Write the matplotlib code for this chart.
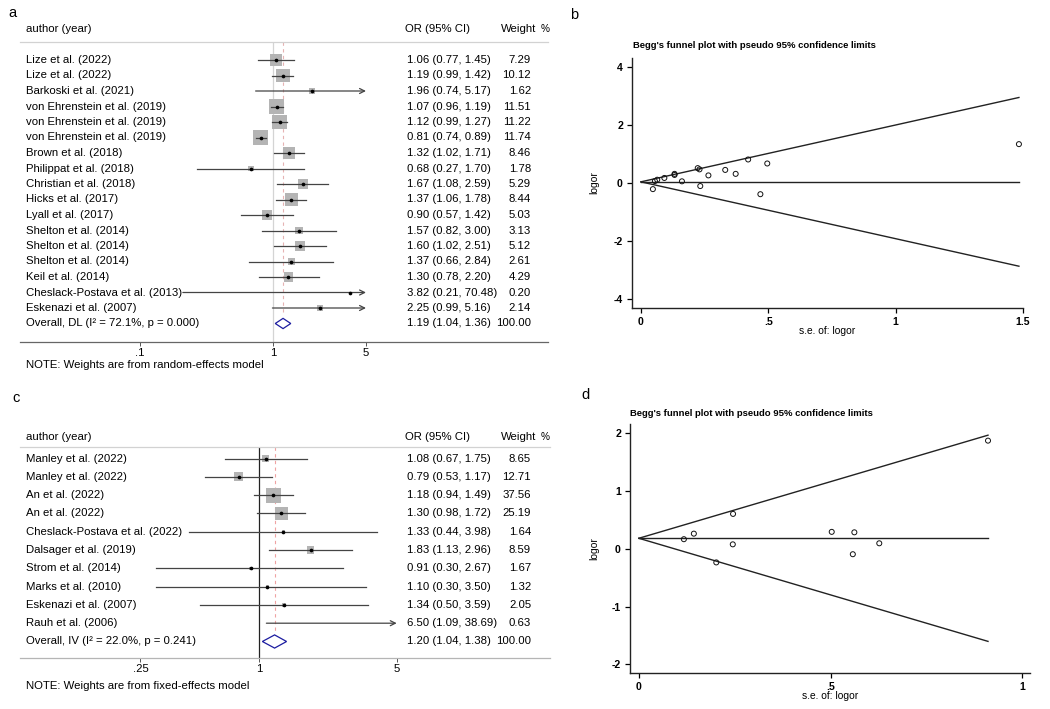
import numpy as np
import matplotlib
matplotlib.use("Agg")
import matplotlib.pyplot as plt
from matplotlib.transforms import blended_transform_factory
from matplotlib.ticker import NullLocator

plt.rcParams['font.family'] = ['Liberation Sans', 'DejaVu Sans']

# ---- panel a: forest plot (random effects)
a_names = ["Lize et al. (2022)", "Lize et al. (2022)", "Barkoski et al. (2021)",
           "von Ehrenstein et al. (2019)", "von Ehrenstein et al. (2019)",
           "von Ehrenstein et al. (2019)", "Brown et al. (2018)", "Philippat et al. (2018)",
           "Christian et al. (2018)", "Hicks et al. (2017)", "Lyall et al. (2017)",
           "Shelton et al. (2014)", "Shelton et al. (2014)", "Shelton et al. (2014)",
           "Keil et al. (2014)", "Cheslack-Postava et al. (2013)", "Eskenazi et al. (2007)"]
a_or = [1.06, 1.19, 1.96, 1.07, 1.12, 0.81, 1.32, 0.68, 1.67, 1.37, 0.90, 1.57, 1.60, 1.37, 1.30, 3.82, 2.25]
a_lo = [0.77, 0.99, 0.74, 0.96, 0.99, 0.74, 1.02, 0.27, 1.08, 1.06, 0.57, 0.82, 1.02, 0.66, 0.78, 0.21, 0.99]
a_hi = [1.45, 1.42, 5.17, 1.19, 1.27, 0.89, 1.71, 1.70, 2.59, 1.78, 1.42, 3.00, 2.51, 2.84, 2.20, 70.48, 5.16]
a_wt = [7.29, 10.12, 1.62, 11.51, 11.22, 11.74, 8.46, 1.78, 5.29, 8.44, 5.03, 3.13, 5.12, 2.61, 4.29, 0.20, 2.14]
a_overall = [1.19, 1.04, 1.36]
a_overall_wt = 100.00
a_overall_label = "Overall, DL (I\u00b2 = 72.1%, p = 0.000)"
a_note = "NOTE: Weights are from random-effects model"
a_ticks = [0.1, 1, 5]
a_ticklabels = [".1", "1", "5"]

# ---- panel b: funnel plot for a
b_se = [0.161, 0.092, 0.496, 0.055, 0.064, 0.047, 0.132, 0.469, 0.223, 0.132, 0.233,
        0.331, 0.230, 0.372, 0.265, 1.484, 0.421]
b_logor = [0.058, 0.174, 0.673, 0.068, 0.113, -0.211, 0.278, -0.386, 0.513, 0.315, -0.105,
           0.451, 0.470, 0.315, 0.262, 1.340, 0.811]
b_theta = 0.04

# ---- panel c: forest plot (fixed effects)
c_names = ["Manley et al. (2022)", "Manley et al. (2022)", "An et al. (2022)", "An et al. (2022)",
           "Cheslack-Postava et al. (2022)", "Dalsager et al. (2019)", "Strom et al. (2014)",
           "Marks et al. (2010)", "Eskenazi et al. (2007)", "Rauh et al. (2006)"]
c_or = [1.08, 0.79, 1.18, 1.30, 1.33, 1.83, 0.91, 1.10, 1.34, 6.50]
c_lo = [0.67, 0.53, 0.94, 0.98, 0.44, 1.13, 0.30, 0.30, 0.50, 1.09]
c_hi = [1.75, 1.17, 1.49, 1.72, 3.98, 2.96, 2.67, 3.50, 3.59, 38.69]
c_wt = [8.65, 12.71, 37.56, 25.19, 1.64, 8.59, 1.67, 1.32, 2.05, 0.63]
c_overall = [1.20, 1.04, 1.38]
c_overall_wt = 100.00
c_overall_label = "Overall, IV (I\u00b2 = 22.0%, p = 0.241)"
c_note = "NOTE: Weights are from fixed-effects model"
c_ticks = [0.25, 1, 5]
c_ticklabels = [".25", "1", "5"]

# ---- panel d: funnel plot for c
d_se = [0.245, 0.202, 0.1175, 0.1435, 0.562, 0.2457, 0.558, 0.627, 0.503, 0.9105]
d_logor = [0.077, -0.236, 0.166, 0.262, 0.285, 0.604, -0.094, 0.095, 0.293, 1.872]
d_theta = 0.182

W, H = 1050, 709
FS = 8.2
fig = plt.figure(figsize=(W / 100, H / 100), dpi=100)


def fx(px):
    return px / W


def fy(py):
    return 1 - py / H


def box(x0, y0, x1, y1):
    return [fx(x0), fy(y1), (x1 - x0) / W, (y1 - y0) / H]


def forest(rect, xlim, ylim, names, est, lo, hi, wt, overall, overall_wt, overall_label,
           note, ticks, ticklabels, header_y, note_y, one_color, dash_color, bottom_color,
           diamond_h, clip=5):
    ax = fig.add_axes(rect)
    ax.set_xscale("log")
    ax.set_xlim(*xlim)
    ax.set_ylim(*ylim)
    n = len(names)
    ys = np.arange(n)
    tr = blended_transform_factory(fig.transFigure, ax.transData)

    ax.axvline(1, color=one_color, lw=0.9, zorder=0)
    ax.plot([overall[0], overall[0]], [ylim[1], n - 0.55], color=dash_color,
            lw=0.8, ls=(0, (3, 3)), zorder=0)

    wmax = max(wt)
    inside = [i for i in range(n) if est[i] <= clip]
    sizes = [(15 * np.sqrt(wt[i] / wmax) * 0.72) ** 2 for i in inside]
    ax.scatter([est[i] for i in inside], ys[inside], marker="s", s=sizes,
               color="#b4b4b4", lw=0, zorder=2)
    for y, l, h in zip(ys, lo, hi):
        if h > clip:
            ax.annotate("", xy=(clip, y), xytext=(l, y),
                        arrowprops=dict(arrowstyle="->", color="#444444", lw=0.9,
                                        shrinkA=0, shrinkB=0, mutation_scale=9),
                        zorder=3)
        else:
            ax.plot([l, h], [y, y], color="#444444", lw=0.9, zorder=3)
    ax.scatter([est[i] for i in inside], ys[inside], s=7, color="black", lw=0, zorder=4)

    e, l, h = overall
    ax.fill([l, e, h, e], [n, n - diamond_h, n, n + diamond_h], facecolor="white",
            edgecolor="#1c1ca0", lw=0.9, zorder=4)

    for y, name, es, lw_, hw, w in zip(ys, names, est, lo, hi, wt):
        ax.text(fx(26), y, name, transform=tr, ha="left", va="center", fontsize=FS)
        ax.text(fx(407), y, f"{es:.2f} ({lw_:.2f}, {hw:.2f})", transform=tr,
                ha="left", va="center", fontsize=FS)
        ax.text(fx(531), y, f"{w:.2f}", transform=tr, ha="right", va="center", fontsize=FS)
    ax.text(fx(26), n, overall_label, transform=tr, ha="left", va="center", fontsize=FS)
    ax.text(fx(407), n, f"{e:.2f} ({l:.2f}, {h:.2f})", transform=tr,
            ha="left", va="center", fontsize=FS)
    ax.text(fx(531), n, f"{overall_wt:.2f}", transform=tr, ha="right", va="center",
            fontsize=FS)

    ax.text(fx(26), header_y, "author (year)", transform=tr, ha="left", va="center", fontsize=FS)
    ax.text(fx(405), header_y, "OR (95% CI)", transform=tr, ha="left", va="center", fontsize=FS)
    ax.text(fx(501), header_y, "Weight", transform=tr, ha="left", va="center", fontsize=FS)
    ax.text(fx(541), header_y, "%", transform=tr, ha="left", va="center", fontsize=FS - 1)
    fig.text(fx(26), fy(note_y), note, ha="left", va="center", fontsize=FS)

    for s in ["left", "right"]:
        ax.spines[s].set_visible(False)
    ax.spines["top"].set_color("#d2d2d2")
    ax.spines["top"].set_linewidth(0.9)
    ax.spines["bottom"].set_color(bottom_color)
    ax.spines["bottom"].set_linewidth(0.9)
    ax.set_yticks([])
    ax.set_xticks(ticks)
    ax.set_xticklabels(ticklabels)
    ax.xaxis.set_minor_locator(NullLocator())
    ax.tick_params(axis="x", direction="out", length=3, width=0.7, color="#555555",
                   labelsize=FS, pad=1)
    return ax


def funnel(rect, se, logor, theta, xlim, ylim, xticks, xtl, yticks, ytl, title_xy, ylab_x):
    ax = fig.add_axes(rect)
    smax = max(se)
    ax.plot([0, smax], [theta, theta], color="#222222", lw=1.0)
    ax.plot([0, smax], [theta, theta + 1.96 * smax], color="#222222", lw=1.0)
    ax.plot([0, smax], [theta, theta - 1.96 * smax], color="#222222", lw=1.0)
    ax.scatter(se, logor, s=13, facecolors="none", edgecolors="#111111", linewidths=0.7,
               zorder=3)
    ax.set_xlim(*xlim)
    ax.set_ylim(*ylim)
    ax.set_xticks(xticks)
    ax.set_xticklabels(xtl)
    ax.set_yticks(yticks)
    ax.set_yticklabels(ytl)
    for s in ["top", "right"]:
        ax.spines[s].set_visible(False)
    for s in ["left", "bottom"]:
        ax.spines[s].set_linewidth(1.0)
        ax.spines[s].set_color("#222222")
    ax.tick_params(direction="out", length=3.5, width=0.9, labelsize=7.6, pad=3)
    for t in ax.get_xticklabels() + ax.get_yticklabels():
        t.set_fontweight("bold")
    ax.set_xlabel("s.e. of: logor", fontsize=7.4)
    ax.set_ylabel("logor", fontsize=7.4)
    ax.xaxis.set_label_coords(0.5, -0.072)
    ax.yaxis.set_label_coords(ylab_x, 0.5)
    fig.text(fx(title_xy[0]), fy(title_xy[1]),
             "Begg's funnel plot with pseudo 95% confidence limits",
             ha="left", va="center", fontsize=6.8, fontweight="bold")
    return ax


# panel a
forest(box(20, 42, 548, 342), (10 ** (-253 / 133), 10 ** (275 / 133)),
       ((342 - 60) / 15.5, -(60 - 42) / 15.5),
       a_names, a_or, a_lo, a_hi, a_wt, a_overall, a_overall_wt, a_overall_label, a_note,
       a_ticks, a_ticklabels, header_y=-2.0, note_y=365,
       one_color="#d4d4d4", dash_color="#e6b3b3", bottom_color="#666666",
       diamond_h=0.33)

# panel c
forest(box(20, 447, 550, 658), (10 ** (-239 / 197), 10 ** (291 / 197)),
       ((658 - 458.5) / 18.3, -(458.5 - 447) / 18.3),
       c_names, c_or, c_lo, c_hi, c_wt, c_overall, c_overall_wt, c_overall_label, c_note,
       c_ticks, c_ticklabels, header_y=-1.17, note_y=686,
       one_color="#222222", dash_color="#efa3a3", bottom_color="#b5b5b5",
       diamond_h=0.36)

# panel b
funnel(box(632, 58, 1023, 308), b_se, b_logor, b_theta, (-0.035, 1.5), (-4.31, 4.31),
       [0, 0.5, 1, 1.5], ["0", ".5", "1", "1.5"], [-4, -2, 0, 2, 4],
       ["-4", "-2", "0", "2", "4"], (633, 46), -0.084)

# panel d
funnel(box(630, 424, 1030, 673), d_se, d_logor, d_theta, (-0.023, 1.02), (-2.15, 2.16),
       [0, 0.5, 1], ["0", ".5", "1"], [-2, -1, 0, 1, 2],
       ["-2", "-1", "0", "1", "2"], (630, 413), -0.078)

for lab, x, y in [("a", 8, 13), ("b", 570, 15), ("c", 12, 398), ("d", 581, 395)]:
    fig.text(fx(x), fy(y), lab, ha="left", va="center", fontsize=10.5)

fig.savefig("out.png", dpi=100)
